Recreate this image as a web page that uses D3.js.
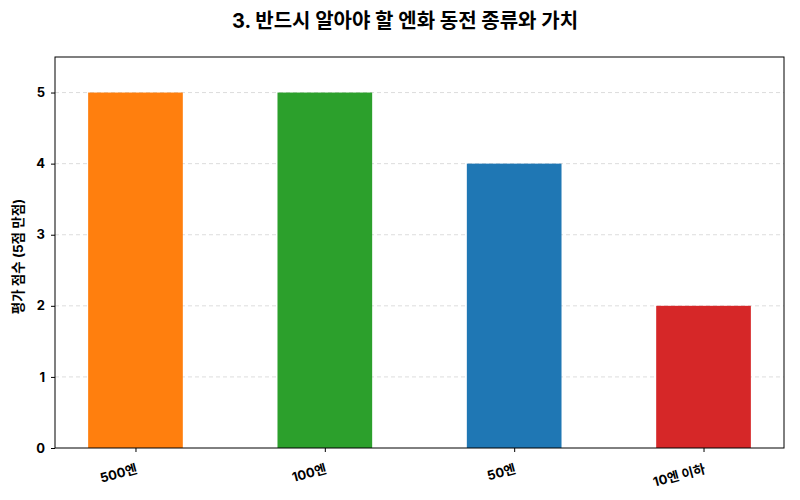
<!DOCTYPE html>
<html><head><meta charset="utf-8">
<script src="https://cdn.jsdelivr.net/npm/d3@7"></script>
<style>
body{margin:0;background:#fff;}
text{font-family:Inter,"Noto Sans CJK KR","Noto Sans",sans-serif;}
</style></head>
<body><svg id="c" width="800" height="500"></svg>
<script>
const categories = ["500엔", "100엔", "50엔", "10엔 이하"];
const values = [5, 5, 4, 2];
const colors = ["#ff7f0e", "#2ca02c", "#1f77b4", "#d62728"];
const yTicks = [0, 1, 2, 3, 4, 5];
const title = "3. 반드시 알아야 할 엔화 동전 종류와 가치";
const yLabel = "평가 점수 (5점 만점)";

const svg = d3.select("#c");
const m = {l: 55, r: 784, t: 57, b: 448};

const x = d3.scaleLinear().domain([-0.425, categories.length - 1 + 0.425]).range([m.l, m.r]);
const y = d3.scaleLinear().domain([0, 5.5]).range([m.b, m.t]);
const bw = x(0.5) - x(0);

// grid
svg.append("g").selectAll("line").data(yTicks.filter(d => d > 0)).join("line")
  .attr("x1", m.l).attr("x2", m.r).attr("y1", d => y(d)).attr("y2", d => y(d))
  .attr("stroke", "#d4d4d4").attr("stroke-width", 0.8).attr("stroke-dasharray", "4,3");

// bars
svg.append("g").selectAll("rect").data(values).join("rect")
  .attr("x", (d, i) => x(i) - bw / 2).attr("width", bw)
  .attr("y", d => y(d)).attr("height", d => y(0) - y(d))
  .attr("fill", (d, i) => colors[i]);

// frame
svg.append("rect").attr("x", m.l).attr("y", m.t).attr("width", m.r - m.l).attr("height", m.b - m.t)
  .attr("fill", "none").attr("stroke", "#000").attr("stroke-width", 1);

// y axis
const ya = svg.append("g").attr("transform", `translate(${m.l},0)`)
  .call(d3.axisLeft(y).tickValues(yTicks).tickSize(4).tickPadding(6).tickFormat(d3.format("d")));
ya.select(".domain").remove();
ya.selectAll("text").attr("font-size", 13).attr("font-weight", "bold").attr("fill", "#000");

// x axis
const xa = svg.append("g").attr("transform", `translate(0,${m.b})`)
  .call(d3.axisBottom(x).tickValues(d3.range(categories.length)).tickSize(4).tickFormat(i => categories[i]));
xa.select(".domain").remove();
xa.selectAll("text").attr("font-size", 13).attr("font-weight", "bold").attr("fill", "#000")
  .attr("text-anchor", "end").attr("dy", null).attr("y", 0)
  .attr("transform", "translate(2,25) rotate(-15)");

// title
svg.append("text").attr("x", 405).attr("y", 28).attr("text-anchor", "middle")
  .attr("font-size", 20).attr("font-weight", "bold").text(title);

// y label
svg.append("text").attr("transform", `translate(23,${(m.t + m.b) / 2 + 4}) rotate(-90)`)
  .attr("text-anchor", "middle").attr("font-size", 13.5).attr("font-weight", "bold").text(yLabel);
</script></body></html>
